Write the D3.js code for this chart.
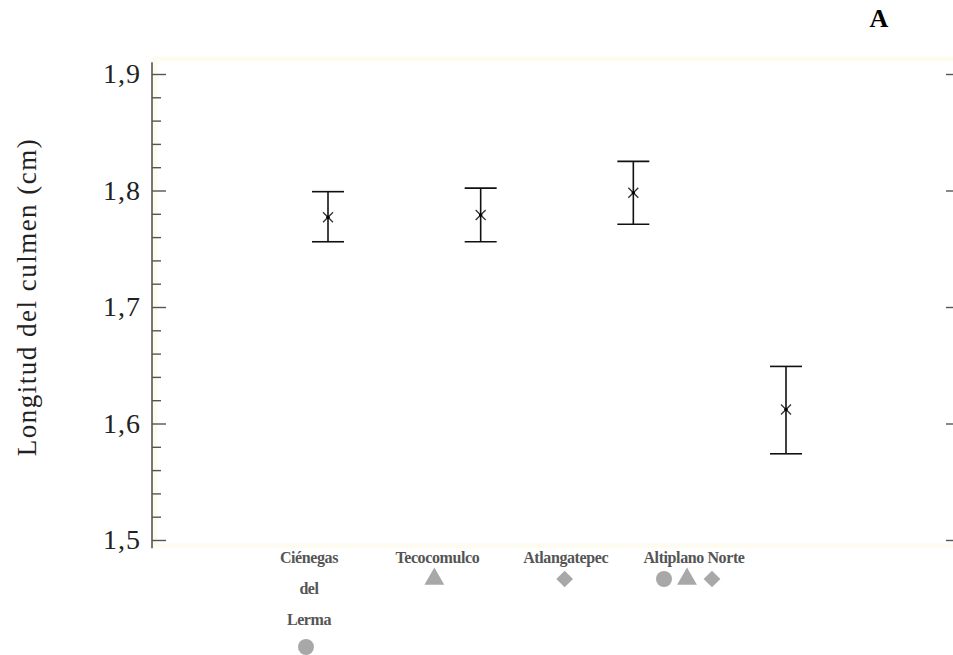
<!DOCTYPE html>
<html lang="es">
  <head>
    <meta charset="utf-8">
    <title>Longitud del culmen</title>
    <script src="https://d3js.org/d3.v7.min.js"></script>
    <style type="text/css">
      body { margin: 0; background: #fff; }
      svg { display: block; }
      text { font-family: "Liberation Serif", "DejaVu Serif", serif; }
      .bar { stroke: #111; stroke-width: 1.6px; fill: none; }
      .mark { stroke: #333; stroke-width: 1.3px; fill: none; }
      .axis text { font-family: "Liberation Serif", "DejaVu Serif", serif; font-size: 28px; fill: #222; letter-spacing: 1px; }
      .axis line { stroke: #555; stroke-width: 1.4px; }
    </style>
  </head>
  <body>
    <script>
      var w = 953;
      var h = 655;
      var serif = "Liberation Serif, DejaVu Serif, serif";

      // data
      var categories = ["Ciénegas del Lerma", "Tecocomulco", "Atlangatepec", "Altiplano Norte"];
      var labelLines = [["Ciénegas", "del", "Lerma"], ["Tecocomulco"], ["Atlangatepec"], ["Altiplano Norte"]];
      var means = [1.777, 1.779, 1.798, 1.612];
      var upper = [1.799, 1.802, 1.825, 1.649];
      var lower = [1.756, 1.756, 1.771, 1.574];
      var symbols = [["circle"], ["triangle"], ["diamond"], ["circle", "triangle", "diamond"]];
      var majorTicks = [1.5, 1.6, 1.7, 1.8, 1.9];
      var minorTicks = [1.52, 1.54, 1.56, 1.58, 1.62, 1.64, 1.66, 1.68,
                        1.72, 1.74, 1.76, 1.78, 1.82, 1.84, 1.86, 1.88];

      var svg = d3.select("body").append("svg")
          .attr("width", w).attr("height", h);

      var xScale = d3.scalePoint()
        .domain(categories)
        .range([328, 786]);

      // the category labels sit on a tighter spacing than the bars
      var labelScale = d3.scalePoint()
        .domain(categories)
        .range([309, 694]);

      var yScale = d3.scaleLinear()
        .domain([1.5, 1.9])
        .range([540, 74]);

      var axisX = 152;

      // faint plot frame
      svg.append("rect")
        .attr("x", axisX + 3).attr("y", yScale(1.913))
        .attr("width", w - axisX).attr("height", yScale(1.495) - yScale(1.913))
        .attr("fill", "none").attr("stroke", "#fefcf1").attr("stroke-width", 5);

      // left axis
      svg.append("line")
        .attr("x1", axisX).attr("x2", axisX)
        .attr("y1", yScale(1.91)).attr("y2", yScale(1.493))
        .attr("stroke", "#555").attr("stroke-width", 1.6);

      var gMajor = svg.append("g")
        .attr("class", "axis")
        .attr("transform", "translate(" + axisX + ",0)")
        .call(d3.axisLeft(yScale)
          .tickValues(majorTicks)
          .tickSizeInner(-14).tickSizeOuter(0).tickPadding(11)
          .tickFormat(d => d3.format(".1f")(d).replace(".", ",")));
      gMajor.select(".domain").remove();
      gMajor.attr("font-family", serif).attr("font-size", 28);

      var gMinor = svg.append("g")
        .attr("class", "axis")
        .attr("transform", "translate(" + axisX + ",0)")
        .call(d3.axisLeft(yScale)
          .tickValues(minorTicks)
          .tickSizeInner(-9).tickSizeOuter(0)
          .tickFormat(""));
      gMinor.select(".domain").remove();

      // right ticks
      var gRight = svg.append("g")
        .attr("class", "axis")
        .attr("transform", "translate(" + w + ",0)")
        .call(d3.axisRight(yScale)
          .tickValues(majorTicks)
          .tickSizeInner(-7).tickSizeOuter(0)
          .tickFormat(""));
      gRight.select(".domain").remove();

      // y title
      svg.append("text")
        .attr("transform", "translate(36,297) rotate(-90)")
        .attr("text-anchor", "middle")
        .attr("font-family", serif)
        .attr("font-size", 27)
        .attr("fill", "#222")
        .style("letter-spacing", "1.5px")
        .text("Longitud del culmen (cm)");

      // panel letter
      svg.append("text")
        .attr("x", 879).attr("y", 27)
        .attr("text-anchor", "middle")
        .attr("font-family", serif)
        .attr("font-size", 26).attr("font-weight", "bold")
        .attr("fill", "#000")
        .text("A");

      // error bars
      var bars = svg.selectAll(".eb")
        .data(categories)
        .enter().append("g")
        .attr("class", "eb");

      var cap = 16;
      bars.append("line").attr("class", "bar")
        .attr("x1", d => xScale(d)).attr("x2", d => xScale(d))
        .attr("y1", (d, i) => yScale(upper[i])).attr("y2", (d, i) => yScale(lower[i]));
      bars.append("line").attr("class", "bar")
        .attr("x1", d => xScale(d) - cap).attr("x2", d => xScale(d) + cap)
        .attr("y1", (d, i) => yScale(upper[i])).attr("y2", (d, i) => yScale(upper[i]));
      bars.append("line").attr("class", "bar")
        .attr("x1", d => xScale(d) - cap).attr("x2", d => xScale(d) + cap)
        .attr("y1", (d, i) => yScale(lower[i])).attr("y2", (d, i) => yScale(lower[i]));

      var m = 5;
      bars.append("path").attr("class", "mark")
        .attr("d", (d, i) => {
          var cx = xScale(d), cy = yScale(means[i]);
          return "M" + (cx - m) + "," + (cy - m) + "L" + (cx + m) + "," + (cy + m) +
                 "M" + (cx - m) + "," + (cy + m) + "L" + (cx + m) + "," + (cy - m);
        });
      bars.append("circle")
        .attr("cx", d => xScale(d)).attr("cy", (d, i) => yScale(means[i]))
        .attr("r", 1.8).attr("fill", "#000");

      // category labels with symbols
      var base = 563;
      var labels = svg.selectAll(".lab")
        .data(categories)
        .enter().append("g")
        .attr("class", "lab");

      labels.each(function(d, i) {
        var g = d3.select(this);
        var cx = labelScale(d);
        labelLines[i].forEach(function(t, j) {
          g.append("text")
            .attr("x", cx).attr("y", base + j * 31)
            .attr("text-anchor", "middle")
            .attr("font-family", serif)
            .attr("font-size", 16).attr("font-weight", "bold")
            .attr("fill", "#555")
            .style("letter-spacing", "-0.4px")
            .text(t);
        });
        var n = labelLines[i].length;
        var sy = base + 16 + (n - 1) * 34;
        var syms = symbols[i];
        syms.forEach(function(s, k) {
          var sx = cx + (k - (syms.length - 1) / 2) * 23 - (syms.length > 1 ? 7 : 3);
          var p = g.append("path").attr("fill", "#a8a8a8");
          if (s === "diamond") {
            p.attr("transform", "translate(" + (sx + 2) + "," + sy + ") rotate(45)")
             .attr("d", d3.symbol().type(d3.symbolSquare).size(140)());
          } else {
            p.attr("transform", "translate(" + sx + "," + sy + ")")
             .attr("d", d3.symbol().type(s === "circle" ? d3.symbolCircle : d3.symbolTriangle)
               .size(s === "circle" ? 200 : 170)());
          }
        });
      });
    </script>
  </body>
</html>
